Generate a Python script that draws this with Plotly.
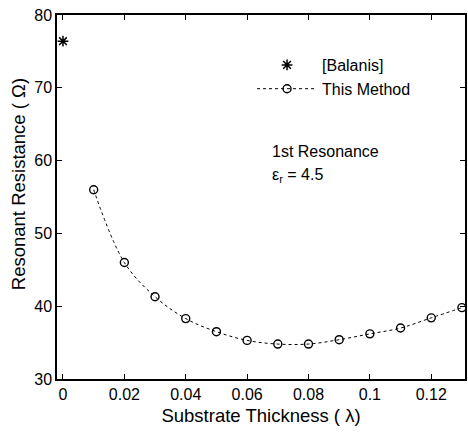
import plotly.graph_objects as go

# Data
balanis_x = [0.0]
balanis_y = [76.4]

thickness = [0.01, 0.02, 0.03, 0.04, 0.05, 0.06, 0.07, 0.08, 0.09, 0.10, 0.11, 0.12, 0.13]
resistance = [56.0, 46.0, 41.3, 38.3, 36.5, 35.3, 34.8, 34.8, 35.4, 36.2, 37.0, 38.4, 39.8]

x_ticks = [0, 0.02, 0.04, 0.06, 0.08, 0.1, 0.12]
x_tick_labels = ["0", "0.02", "0.04", "0.06", "0.08", "0.1", "0.12"]
y_ticks = [30, 40, 50, 60, 70, 80]

FONT = "Arial, Liberation Sans, Helvetica, sans-serif"

fig = go.Figure()
fig.add_trace(go.Scatter(
    x=balanis_x, y=balanis_y, mode="markers", name="[Balanis]",
    marker=dict(symbol="asterisk-open", size=9, color="black", line=dict(width=1.5, color="black")),
))
fig.add_trace(go.Scatter(
    x=thickness, y=resistance, mode="lines+markers", name="This Method",
    line=dict(color="black", width=1, dash="3px,3px", shape="spline", smoothing=1.0),
    marker=dict(symbol="circle-open", size=8, color="black", line=dict(width=1.4, color="black")),
))

fig.add_annotation(x=0.0675, y=61.3, xref="x", yref="y", text="1st Resonance",
                   showarrow=False, xanchor="left", yanchor="middle",
                   font=dict(family=FONT, size=16, color="black"))
fig.add_annotation(x=0.0675, y=57.9, xref="x", yref="y", text="ε<sub>r</sub> = 4.5",
                   showarrow=False, xanchor="left", yanchor="middle",
                   font=dict(family=FONT, size=16, color="black"))
# y-axis title (placed as annotation to match vertical offset)
fig.add_annotation(x=-57 / 410 + 18 / 410, y=(379 - 184) / 364, xref="paper", yref="paper",
                   text="Resonant Resistance ( Ω)", textangle=-90, showarrow=False,
                   xanchor="center", yanchor="middle",
                   font=dict(family=FONT, size=18.5, color="black"))

axis_common = dict(
    showline=True, linecolor="black", linewidth=1.5, mirror="ticks",
    ticks="inside", ticklen=5, tickcolor="black", tickwidth=1,
    showgrid=False, zeroline=False,
    tickfont=dict(family=FONT, size=16, color="black"),
)

fig.update_layout(
    width=468, height=432,
    margin=dict(l=57, r=1, t=15, b=53),
    paper_bgcolor="white", plot_bgcolor="white",
    showlegend=True,
    legend=dict(x=(253 - 57) / 410, y=(379 - 48) / 364, xanchor="left", yanchor="top",
                bgcolor="rgba(0,0,0,0)", font=dict(family=FONT, size=16, color="black"),
                itemwidth=60, tracegroupgap=0),
    xaxis=dict(range=[-0.00195, 0.1310], tickvals=x_ticks, ticktext=x_tick_labels,
               title=dict(text="Substrate Thickness ( λ)", font=dict(family=FONT, size=18.5, color="black"), standoff=7),
               **axis_common),
    yaxis=dict(range=[30, 80], tickvals=y_ticks, **axis_common),
)

fig.write_html("out.html")
